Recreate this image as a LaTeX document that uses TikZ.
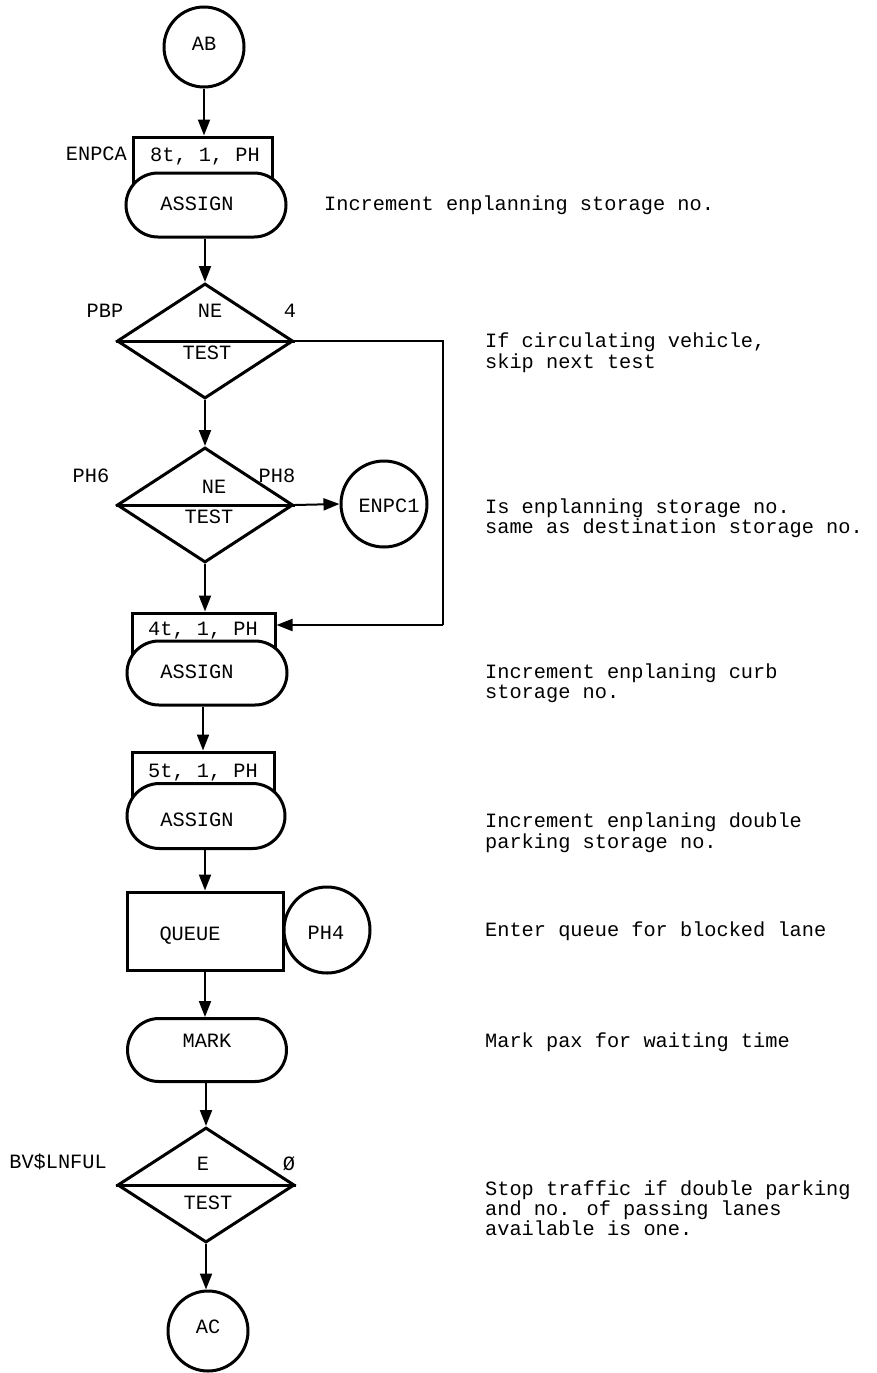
\documentclass[tikz,border=0pt]{standalone}
\usepackage{fontspec}
\newfontfamily\mono{Liberation Mono}
\usetikzlibrary{shapes.geometric,shapes.misc,arrows.meta}
\tikzset{
  txt/.style={font=\mono\fontsize{20.3}{20.5}\selectfont, inner sep=0pt, text height=14pt, text depth=4pt},
  circ/.style={circle, draw, line width=3pt, inner sep=0pt, fill=white},
  stad/.style={rounded rectangle, draw, line width=3pt, fill=white, inner sep=0pt, minimum height=64pt},
  tbox/.style={rectangle, draw, line width=3pt, inner sep=0pt},
  dia/.style={diamond, draw, line width=3pt, inner sep=0pt, minimum width=176pt, minimum height=115pt},
  conn/.style={line width=2pt, -{Triangle[length=16pt,width=12pt]}},
  plain/.style={line width=2pt},
  note/.style={txt, anchor=west},
}
\begin{document}
\begin{tikzpicture}[x=1pt,y=-1pt]
\useasboundingbox (0,0) rectangle (876,1373);
% --- shapes
\node[circ, minimum size=80pt] (ab) at (204,47) {};
\node[tbox, minimum width=139pt, minimum height=68pt] (box1) at (202.5,171) {};
\node[stad, minimum width=160pt] (st1) at (206,205) {};
\node[dia] (d1) at (205,341) {};
\node[dia] (d2) at (205,505) {};
\node[circ, minimum size=86pt] (enpc) at (384,504) {};
\node[tbox, minimum width=143pt, minimum height=60pt] (box2) at (203.5,643) {};
\node[stad, minimum width=160pt] (st2) at (207,673) {};
\node[tbox, minimum width=142pt, minimum height=66pt] (box3) at (203,785) {};
\node[stad, minimum width=158pt, minimum height=65pt] (st3) at (206,816) {};
\node[tbox, minimum width=156pt, minimum height=78pt] (queue) at (205,931) {};
\node[circ, minimum size=86pt] (ph4) at (327,930) {};
\node[stad, minimum width=159pt, minimum height=63pt] (mark) at (207,1050) {};
\node[dia, minimum width=177pt] (d3) at (206,1185) {};
\node[circ, minimum size=80pt] (ac) at (208,1331) {};
% diamond dividers
\draw[line width=3pt] (d1.west) -- (d1.east);
\draw[line width=3pt] (d2.west) -- (d2.east);
\draw[line width=3pt] (d3.west) -- (d3.east);
% --- texts in shapes
\node[txt] (tab) at (204,45) {AB};
\node[txt, anchor=east] (tenpca) at (127,155) {ENPCA};
\node[txt] (tb1) at (205,156) {8t, 1, PH};
\node[txt] (ta1) at (197,205) {ASSIGN};
\node[txt] (tpbp) at (105,312) {PBP};
\node[txt] (tne1) at (210,312) {NE};
\node[txt] (tfour) at (290,312) {4};
\node[txt] (ttest1) at (207,354) {TEST};
\node[txt] (tph6) at (91,477) {PH6};
\node[txt] (tph8) at (277,477) {PH8};
\node[txt] (tne2) at (214,488) {NE};
\node[txt] (ttest2) at (209,518) {TEST};
\node[txt] (tenpc) at (389,507) {ENPC1};
\node[txt] (tb2) at (203,630) {4t, 1, PH};
\node[txt] (ta2) at (197,673) {ASSIGN};
\node[txt] (tb3) at (203,772) {5t, 1, PH};
\node[txt] (ta3) at (197,821) {ASSIGN};
\node[txt] (tq) at (190,935) {QUEUE};
\node[txt] (tph4) at (326,934) {PH4};
\node[txt] (tm) at (207,1042) {MARK};
\node[txt, anchor=east] (tbv) at (107,1163) {BV\$LNFUL};
\node[txt] (te) at (203,1165) {E};
\node[txt] (tzero) at (289,1165) {Ø};
\node[txt] (ttest3) at (208,1204) {TEST};
\node[txt] (tac) at (208,1328) {AC};
% --- notes
\node[note] (n1) at (324,205) {Increment enplanning storage no.};
\node[note] (n2a) at (485,342) {If circulating vehicle,};
\node[note] (n2b) at (485,363) {skip next test};
\node[note] (n3a) at (485,508) {Is enplanning storage no.};
\node[note] (n3b) at (485,528) {same as destination storage no.};
\node[note] (n4a) at (485,673) {Increment enplaning curb};
\node[note] (n4b) at (485,693) {storage no.};
\node[note] (n5a) at (485,822) {Increment enplaning double};
\node[note] (n5b) at (485,843) {parking storage no.};
\node[note] (n6) at (485,931) {Enter queue for blocked lane};
\node[note] (n7) at (485,1042) {Mark pax for waiting time};
\node[note] (n8a) at (485,1190) {Stop traffic if double parking};
\node[note] (n8b) at (485,1210) {and no. of passing lanes};
\node[note] (n8c) at (485,1230) {available is one.};
% --- connectors
\draw[conn] (ab.south) -- (ab.south |- box1.north);
\draw[conn] (st1.south -| d1.north) -- (d1.north);
\draw[conn] (d1.south) -- (d2.north);
\draw[conn] (d2.east) -- (enpc.west);
\coordinate (fb) at (443,625);
\draw[plain] (d1.east) -| (fb);
\draw[conn] (fb) -- (fb -| box2.east);
\draw[conn] (d2.south) -- (d2.south |- box2.north);
\draw[conn] (st2.south -| box3.north) -- (box3.north);
\draw[conn] (st3.south -| queue.north) -- (queue.north);
\draw[conn] (queue.south) -- (queue.south |- mark.north);
\draw[conn] (mark.south -| d3.north) -- (d3.north);
\draw[conn] (d3.south) -- (d3.south |- ac.north);
\end{tikzpicture}
\end{document}
